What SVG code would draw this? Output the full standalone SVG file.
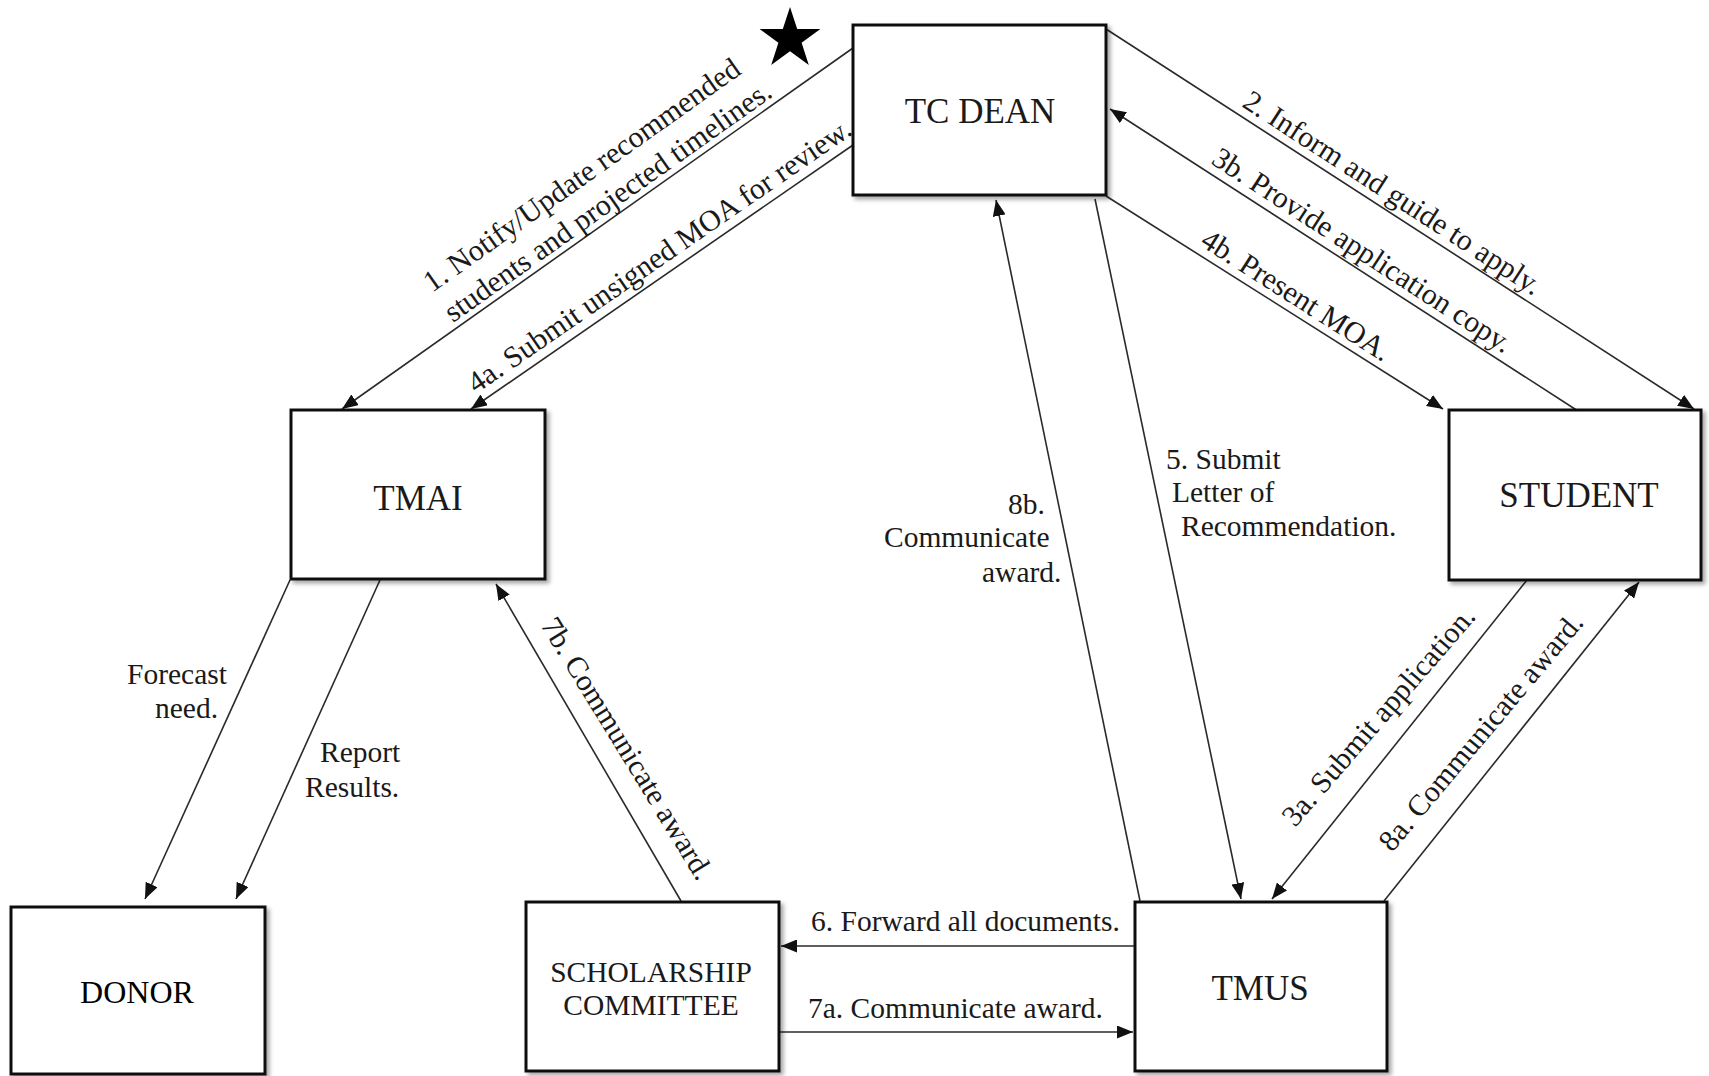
<svg xmlns="http://www.w3.org/2000/svg" width="1709" height="1076" viewBox="0 0 1709 1076">
<style>
.box{fill:#fff;stroke:#111;stroke-width:3}
.node text{font-family:"Liberation Serif","Times New Roman",serif;fill:#1a1a1a;text-anchor:middle}
.big{font-size:35px}
.sc{font-size:29.5px}
.conn line{stroke:#2a2a2a;stroke-width:1.6;fill:none;marker-end:url(#arr)}
.lbl{font-family:"Liberation Serif","Times New Roman",serif;font-size:30px;fill:#1a1a1a}
.h{font-size:29.5px}
</style>
<defs>
<marker id="arr" markerUnits="userSpaceOnUse" markerWidth="17" markerHeight="13" refX="16" refY="6.5" orient="auto">
<path d="M0,0 L16,6.5 L0,13 Z" fill="#111"/>
</marker>
<filter id="sh" x="-10%" y="-10%" width="125%" height="125%">
<feDropShadow dx="3" dy="3" stdDeviation="2" flood-color="#000" flood-opacity="0.35"/>
</filter>
</defs>
<rect width="1709" height="1076" fill="#fff"/>

<g id="connectors" class="conn">
<line x1="853" y1="48" x2="342" y2="409"/>
<line x1="853" y1="145" x2="471" y2="409"/>
<line x1="1106" y1="29" x2="1694" y2="409"/>
<line x1="1578" y1="411" x2="1110" y2="109"/>
<line x1="1106" y1="196" x2="1443" y2="409"/>
<line x1="1095" y1="199" x2="1241" y2="899"/>
<line x1="1140" y1="901" x2="996" y2="200"/>
<line x1="1527" y1="580" x2="1272" y2="899"/>
<line x1="1384" y1="901" x2="1639" y2="582"/>
<line x1="1135" y1="946" x2="781" y2="946"/>
<line x1="779" y1="1032" x2="1133" y2="1032"/>
<line x1="681" y1="901" x2="496" y2="584"/>
<line x1="290" y1="580" x2="145" y2="899"/>
<line x1="380" y1="580" x2="236" y2="899"/>
</g>

<g id="edge-labels" class="lbl">
<text transform="translate(432,293) rotate(-35.3)">1. Notify/Update recommended</text>
<text transform="translate(453,323) rotate(-35.3)">students and projected timelines.</text>
<text transform="translate(476,394) rotate(-34.6)">4a. Submit unsigned MOA for review.</text>
<text transform="translate(1241,106) rotate(33)">2. Inform and guide to apply.</text>
<text transform="translate(1210,163) rotate(33)">3b. Provide application copy.</text>
<text transform="translate(1199,245) rotate(32.5)">4b. Present MOA.</text>
<text transform="translate(1295,828) rotate(-49.2)">3a. Submit application.</text>
<text transform="translate(1392,853) rotate(-50)">8a. Communicate award.</text>
<text transform="translate(540,625) rotate(58.5)">7b. Communicate award.</text>
<text class="h" x="1166" y="469">5. Submit</text>
<text class="h" x="1172" y="502">Letter of</text>
<text class="h" x="1181" y="536">Recommendation.</text>
<text class="h" x="1008" y="514">8b.</text>
<text class="h" x="884" y="547">Communicate</text>
<text class="h" x="982" y="582">award.</text>
<text class="h" x="127" y="684">Forecast</text>
<text class="h" x="155" y="718">need.</text>
<text class="h" x="320" y="762">Report</text>
<text class="h" x="305" y="797">Results.</text>
<text class="h" x="811" y="931">6. Forward all documents.</text>
<text class="h" x="808" y="1018">7a. Communicate award.</text>
</g>

<polygon id="star" points="790,7 797.2,29.1 820.4,29.1 801.6,42.8 808.8,64.9 790,51.2 771.2,64.9 778.4,42.8 759.6,29.1 782.8,29.1" fill="#000"/>

<g id="tc-dean" class="node">
<rect class="box" filter="url(#sh)" x="853" y="25" width="253" height="170"/>
<text class="big" x="980" y="123">TC DEAN</text>
</g>
<g id="tmai" class="node">
<rect class="box" filter="url(#sh)" x="291" y="410" width="254" height="169"/>
<text class="big" x="418" y="510">TMAI</text>
</g>
<g id="student" class="node">
<rect class="box" filter="url(#sh)" x="1449" y="410" width="252" height="170"/>
<text class="big" x="1579" y="507">STUDENT</text>
</g>
<g id="donor" class="node">
<rect class="box" filter="url(#sh)" x="11" y="907" width="254" height="167"/>
<text x="137" y="1003" style="font-size:32px;fill:#000">DONOR</text>
</g>
<g id="scholarship-committee" class="node">
<rect class="box" filter="url(#sh)" x="526" y="902" width="253" height="169"/>
<text class="sc" x="651" y="982">SCHOLARSHIP</text>
<text class="sc" x="651" y="1015">COMMITTEE</text>
</g>
<g id="tmus" class="node">
<rect class="box" filter="url(#sh)" x="1135" y="902" width="252" height="169"/>
<text class="big" x="1260" y="1000">TMUS</text>
</g>
</svg>
